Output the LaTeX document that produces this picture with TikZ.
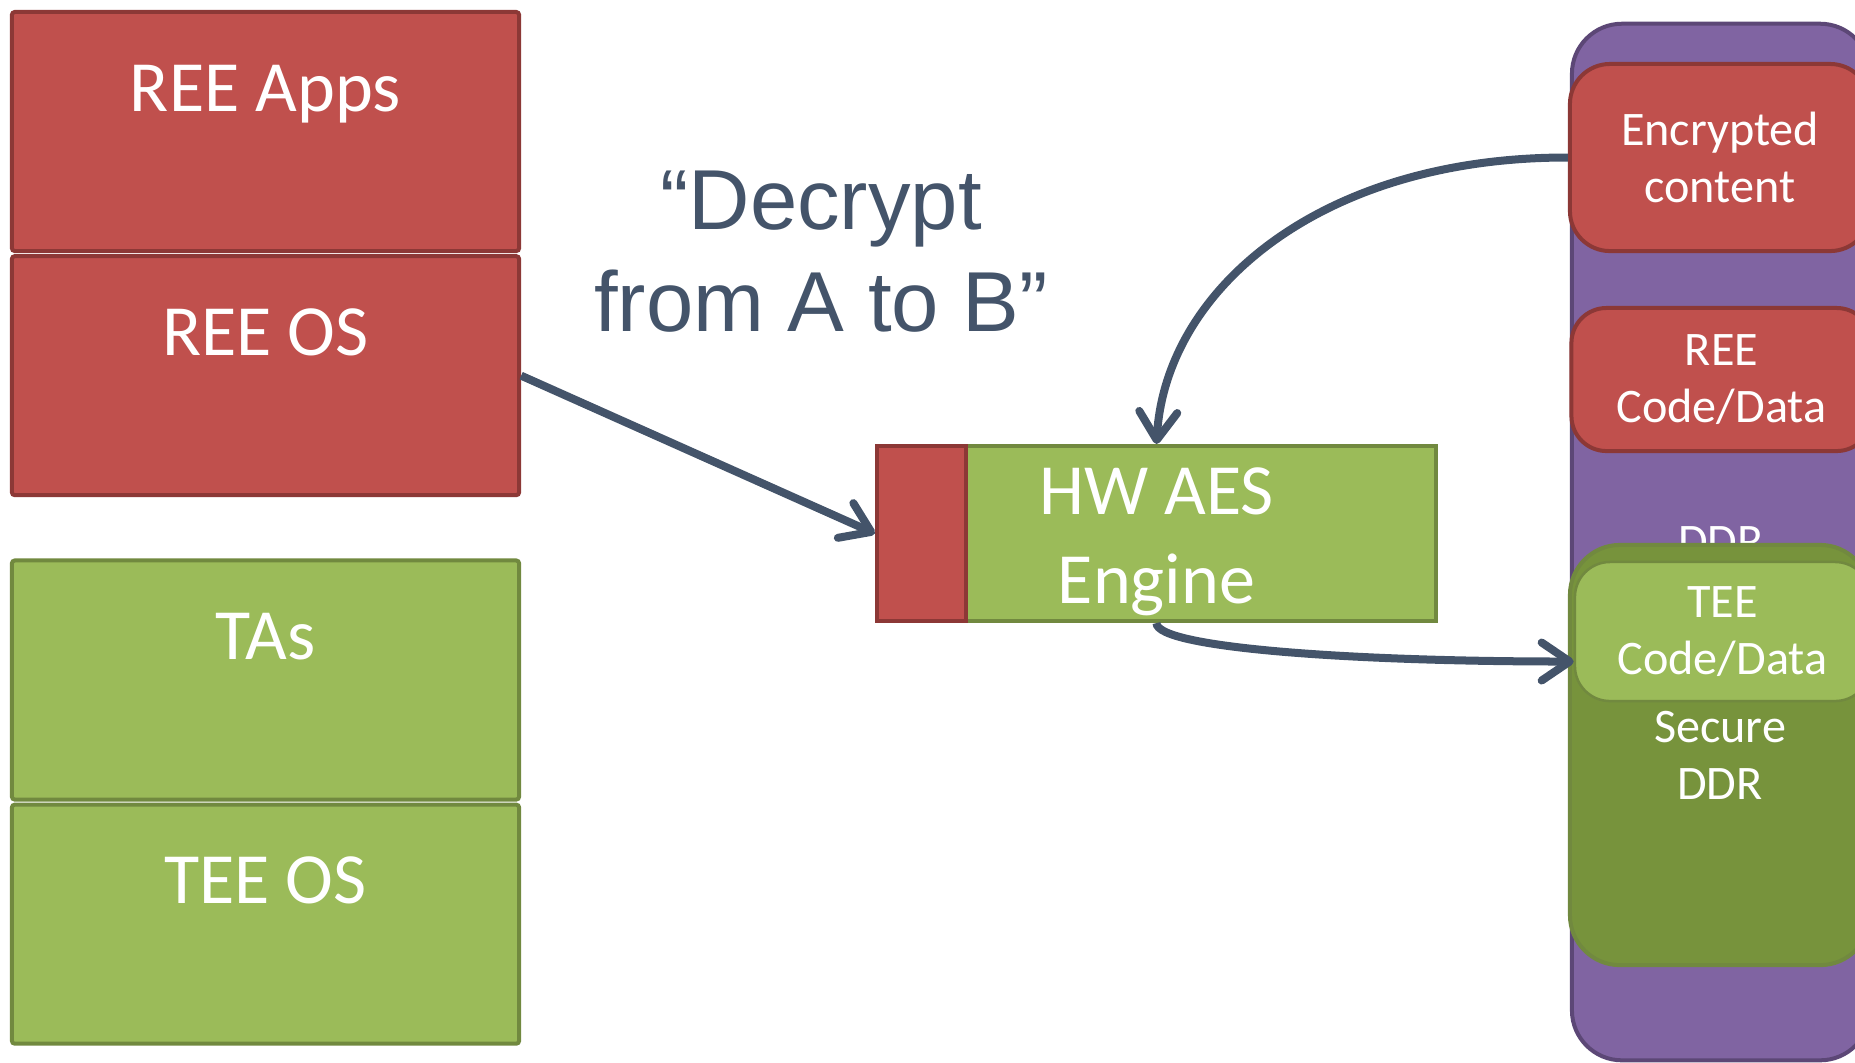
\documentclass[tikz,border=0pt]{standalone}
\usepackage{fontspec}
\setmainfont{Carlito}
\newfontfamily\quotefont{Liberation Sans}
\usetikzlibrary{arrows.meta,positioning,calc}

\definecolor{reefill}{HTML}{C0504D}
\definecolor{reeline}{HTML}{8C3836}
\definecolor{teefill}{HTML}{9BBB59}
\definecolor{teeline}{HTML}{71893F}
\definecolor{ddrfill}{HTML}{8064A2}
\definecolor{ddrline}{HTML}{5C4776}
\definecolor{secfill}{HTML}{77933C}
\definecolor{flow}{HTML}{44546A}

\begin{document}
\begin{tikzpicture}[x=0.01cm,y=-0.01cm,
  >={Straight Barb[round,length=2.8mm,width=3.8mm]},
  flow arrow/.style={->,draw=flow,line width=0.8mm},
  stack node/.style={rectangle,line width=0.4mm,rounded corners=0.3mm,
    minimum width=50.7mm,minimum height=23.9mm,inner sep=0pt},
  ree node/.style={stack node,fill=reefill,draw=reeline},
  tee node/.style={stack node,fill=teefill,draw=teeline},
  stack label/.style={text=white,font=\fontsize{20.5}{25.3}\selectfont,anchor=base},
  mem node/.style={rectangle,line width=0.4mm,minimum width=30mm,inner sep=0pt,
    text=white,align=center,font=\fontsize{13.7}{16.2}\selectfont}]

  \path[use as bounding box,clip] (0,0) rectangle (1855,1062);

  % left stacks
  \node[ree node] (apps) at (265.5,131.5) {};
  \node[ree node,below=0.1mm of apps] (reeos) {};
  \node[tee node] (tas) at (265.5,680) {};
  \node[tee node,below=0.1mm of tas] (teeos) {};

  \node[stack label] (appslbl) at ([yshift=-10.1mm]apps.north) {REE Apps};
  \node[stack label] (reeoslbl) at ([yshift=-10.1mm]reeos.north) {REE OS};
  \node[stack label] (taslbl) at ([yshift=-10.1mm]tas.north) {TAs};
  \node[stack label] (teeoslbl) at ([yshift=-10.1mm]teeos.north) {TEE OS};

  % crypto engine
  \node[rectangle,fill=teefill,draw=teeline,line width=0.4mm,
    minimum width=55.9mm,minimum height=17.5mm] (aes) at (1156.5,533.5) {};
  \node[rectangle,fill=reefill,draw=reeline,line width=0.4mm,anchor=west,
    minimum width=8.9mm,minimum height=17.5mm] (aeskey) at (aes.west) {};
  \node[stack label,align=center] (aeslbl) at ([yshift=-15.9mm]aes.north) {HW AES\\Engine};

  \node[font=\quotefont\fontsize{24.2}{29}\selectfont,text=flow,align=center,anchor=base]
    (quote) at (821,331) {“Decrypt\\from A to B”};

  % memory
  \node[mem node,fill=ddrfill,draw=ddrline,rounded corners=5mm,
    minimum width=29.8mm,minimum height=103.6mm] (ddr) at (1721,542) {DDR};
  \node[mem node,fill=reefill,draw=reeline,rounded corners=4mm,
    minimum height=18.7mm] (enc) at (1720,157.5) {Encrypted\\content};
  \node[mem node,fill=reefill,draw=reeline,rounded corners=3.5mm,
    minimum height=14.3mm] (reecd) at (1721.5,379.5) {REE\\Code/Data};
  \node[mem node,fill=secfill,draw=teeline,rounded corners=5mm,
    minimum height=42mm] (secddr) at (1720,755) {Secure\\DDR};
  \node[mem node,fill=teefill,draw=teeline,line width=0.25mm,rounded corners=3.5mm,
    minimum width=29.5mm,minimum height=13.9mm] (tee) at (1722.5,631.5) {TEE\\Code/Data};

  \coordinate (teein) at ($(tee.west)+(0,30)$);

  \draw[flow arrow] (reeos.east) -- (aes.west);
  \draw[flow arrow] (enc.west) .. controls (1320,157) and (1165,290) .. (aes.north);
  \draw[flow arrow] (aes.south) .. controls +(0,25) and +(-220,0) .. (teein);
\end{tikzpicture}
\end{document}
